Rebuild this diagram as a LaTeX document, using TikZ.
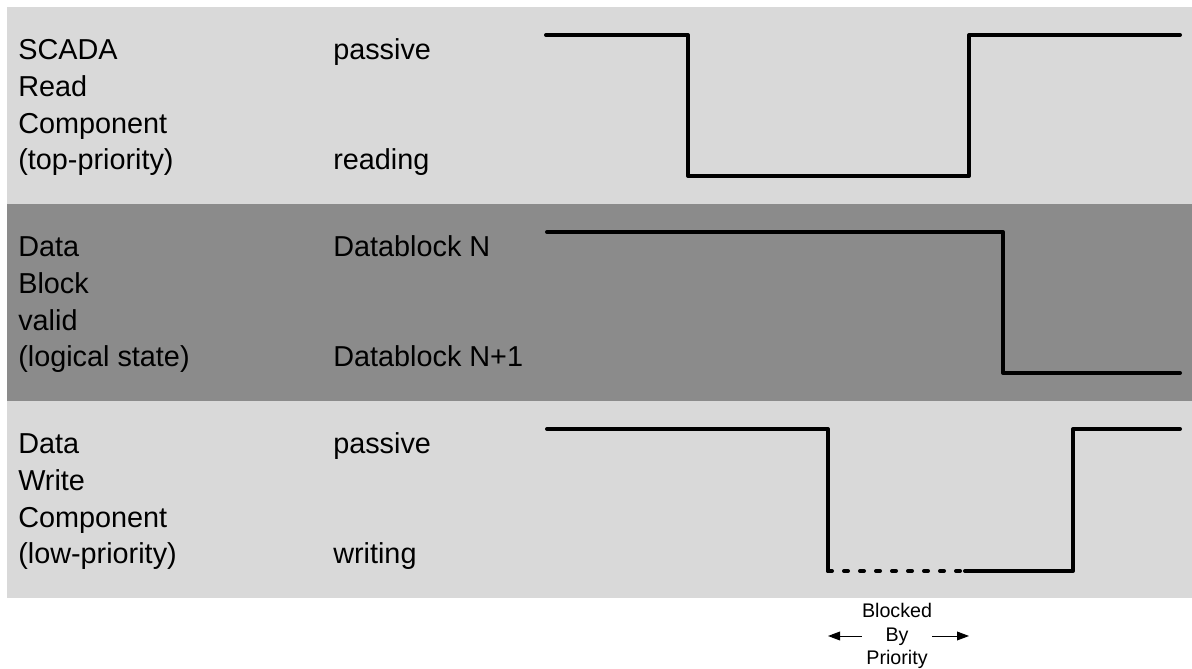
\documentclass[tikz,border=0pt]{standalone}
\usepackage{fontspec}
\setmainfont{Liberation Sans}
\usetikzlibrary{arrows.meta}
\definecolor{bandlight}{RGB}{217,217,217}
\definecolor{banddark}{RGB}{139,139,139}
\tikzset{
  lbl/.style={anchor=base west,align=left,inner sep=0pt,font=\fontsize{20.5}{26.1}\selectfont},
  sig/.style={line width=0.1cm,line cap=round,line join=round},
  note/.style={align=center,inner sep=0pt,font=\fontsize{14}{17}\selectfont},
  arr/.style={line width=0.7pt,-{Triangle[length=0.3cm,width=0.22cm]}}
}
\begin{document}
\begin{tikzpicture}[x=1cm,y=1cm]
\useasboundingbox (0,0) rectangle (29.8,16.725);
\fill[bandlight] (0.175,11.625) rectangle (29.8,16.55);
\fill[banddark] (0.175,6.7) rectangle (29.8,11.625);
\fill[bandlight] (0.175,1.775) rectangle (29.8,6.7);
\node[lbl] (readname) at (0.45,12.475) {SCADA\\Read\\Component\\(top-priority)};
\node[lbl] (readhi) at (8.325,15.225) {passive};
\node[lbl] (readlo) at (8.325,12.475) {reading};
\node[lbl] (blockname) at (0.45,7.55) {Data\\Block\\valid\\(logical state)};
\node[lbl] (blockhi) at (8.325,10.3) {Datablock N};
\node[lbl] (blocklo) at (8.325,7.55) {Datablock N+1};
\node[lbl] (writename) at (0.45,2.625) {Data\\Write\\Component\\(low-priority)};
\node[lbl] (writehi) at (8.325,5.375) {passive};
\node[lbl] (writelo) at (8.325,2.625) {writing};
\draw[sig] (13.65,15.85) -- (17.2,15.85) -- (17.2,12.325) -- (24.225,12.325) -- (24.225,15.85) -- (29.5,15.85);
\draw[sig] (13.675,10.925) -- (25.075,10.925) -- (25.075,7.4) -- (29.5,7.4);
\draw[sig] (13.675,6.0) -- (20.7,6.0) -- (20.7,2.45);
\draw[sig,dash pattern=on 0.1cm off 0.3cm] (20.7,2.45) -- (24.125,2.45);
\draw[sig] (24.125,2.45) -- (26.825,2.45) -- (26.825,6.0) -- (29.5,6.0);
\node[note] (blk) at (22.425,0.825) {Blocked\\By\\Priority};
\coordinate (blkL) at (20.7,0.825);
\coordinate (blkR) at (24.225,0.825);
\draw[arr] (blk.west) -- (blkL);
\draw[arr] (blk.east) -- (blkR);
\end{tikzpicture}
\end{document}
